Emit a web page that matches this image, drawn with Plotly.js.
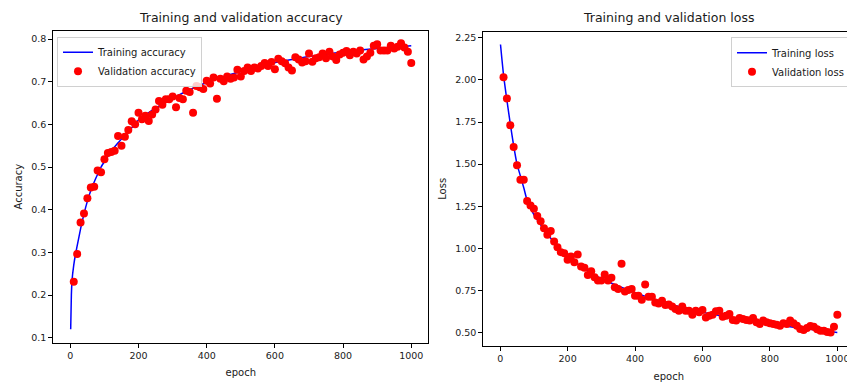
<!DOCTYPE html>
<html>
<head>
<meta charset="utf-8">
<script src="https://cdn.plot.ly/plotly-3.0.1.min.js"></script>
<style>
  html, body { margin: 0; padding: 0; background: #ffffff; overflow: hidden; }
  #chart { width: 860px; height: 383px; }
</style>
</head>
<body>
<div id="chart"></div>
<script>
// ---- Data ----
// Validation points: every 10 epochs, 10..1000
const valEpochs = [10,20,30,40,50,60,70,80,90,100,110,120,130,140,150,160,170,180,190,200,
  210,220,230,240,250,260,270,280,290,300,310,320,330,340,350,360,370,380,390,400,
  410,420,430,440,450,460,470,480,490,500,510,520,530,540,550,560,570,580,590,600,
  610,620,630,640,650,660,670,680,690,700,710,720,730,740,750,760,770,780,790,800,
  810,820,830,840,850,860,870,880,890,900,910,920,930,940,950,960,970,980,990,1000];

const valAccuracy = [0.231,0.296,0.370,0.391,0.427,0.452,0.454,0.492,0.488,0.518,
  0.533,0.535,0.538,0.573,0.550,0.571,0.587,0.607,0.600,0.627,
  0.612,0.620,0.608,0.623,0.635,0.655,0.646,0.659,0.659,0.665,
  0.640,0.662,0.659,0.679,0.676,0.627,0.690,0.687,0.683,0.702,
  0.696,0.710,0.660,0.707,0.701,0.712,0.707,0.710,0.728,0.712,
  0.725,0.733,0.725,0.733,0.731,0.737,0.744,0.737,0.746,0.729,
  0.754,0.748,0.743,0.733,0.726,0.757,0.752,0.745,0.748,0.766,
  0.747,0.755,0.757,0.766,0.755,0.770,0.759,0.751,0.764,0.768,
  0.772,0.762,0.770,0.766,0.773,0.752,0.759,0.768,0.784,0.788,
  0.773,0.773,0.773,0.784,0.778,0.782,0.790,0.780,0.770,0.744];

const valLoss = [2.016,1.890,1.731,1.602,1.493,1.408,1.408,1.281,1.255,1.236,
  1.192,1.162,1.120,1.081,1.103,1.041,1.007,0.978,0.972,0.933,
  0.952,0.918,0.964,0.893,0.885,0.843,0.864,0.829,0.810,0.810,
  0.845,0.810,0.826,0.770,0.760,0.909,0.744,0.754,0.760,0.720,
  0.720,0.695,0.786,0.714,0.714,0.680,0.674,0.690,0.665,0.667,
  0.655,0.641,0.631,0.655,0.631,0.631,0.606,0.631,0.621,0.635,
  0.591,0.601,0.607,0.627,0.631,0.595,0.601,0.611,0.576,0.572,
  0.588,0.582,0.576,0.572,0.588,0.562,0.552,0.572,0.562,0.556,
  0.552,0.548,0.542,0.556,0.552,0.572,0.556,0.542,0.522,0.516,
  0.528,0.540,0.535,0.520,0.512,0.512,0.505,0.502,0.536,0.607];

// Training curves: sampled readings of the blue line
const trainAccEpochs = [1,3,5,10,15,20,30,40,50,60,70,80,90,100,120,140,160,180,200,
  250,300,350,400,450,500,550,600,650,700,750,800,850,900,950,1000];
const trainAccuracy = [0.120,0.200,0.235,0.270,0.295,0.315,0.355,0.390,0.420,0.445,
  0.465,0.483,0.500,0.513,0.537,0.557,0.574,0.592,0.610,
  0.638,0.661,0.681,0.698,0.712,0.724,0.734,0.745,0.752,0.759,0.764,0.770,0.774,0.778,0.781,0.784];

const trainLossEpochs = [1,10,20,30,40,50,60,70,80,100,120,150,175,200,250,300,350,400,
  450,500,550,600,650,700,750,800,850,900,950,1000];
const trainLoss = [2.210,2.030,1.880,1.740,1.610,1.500,1.430,1.360,1.285,1.200,1.140,1.060,
  1.000,0.950,0.880,0.820,0.778,0.738,0.703,0.672,0.645,0.622,0.602,0.584,0.568,0.553,
  0.538,0.525,0.512,0.502];

const xTicks = [0,200,400,600,800,1000];
const accTicks = [0.1,0.2,0.3,0.4,0.5,0.6,0.7,0.8];
const lossTicks = [0.50,0.75,1.00,1.25,1.50,1.75,2.00,2.25];

// ---- Figure ----
const W = 860, H = 383;
const FONT = 'DejaVu Sans, sans-serif';
const tickFont = {family: FONT, size: 9.5, color: '#1a1a1a'};
const titleFont = {family: FONT, size: 10, color: '#1a1a1a'};

function axisBase() {
  return {
    showline: true, linecolor: '#000', linewidth: 1, mirror: true,
    ticks: 'outside', ticklen: 4, tickwidth: 1, tickcolor: '#000',
    showgrid: false, zeroline: false, tickfont: tickFont, automargin: false
  };
}

const traces = [
  {x: trainAccEpochs, y: trainAccuracy, type: 'scatter', mode: 'lines', name: 'Training accuracy',
   line: {color: '#0000ff', width: 1.5, shape: 'spline', smoothing: 0.6}, xaxis: 'x', yaxis: 'y', legend: 'legend'},
  {x: valEpochs, y: valAccuracy, type: 'scatter', mode: 'markers', name: 'Validation accuracy',
   marker: {color: '#ff0000', size: 8}, xaxis: 'x', yaxis: 'y', legend: 'legend'},
  {x: trainLossEpochs, y: trainLoss, type: 'scatter', mode: 'lines', name: 'Training loss',
   line: {color: '#0000ff', width: 1.5, shape: 'spline', smoothing: 0.6}, xaxis: 'x2', yaxis: 'y2', legend: 'legend2'},
  {x: valEpochs, y: valLoss, type: 'scatter', mode: 'markers', name: 'Validation loss',
   marker: {color: '#ff0000', size: 8}, xaxis: 'x2', yaxis: 'y2', legend: 'legend2'}
];

const layout = {
  width: W, height: H,
  margin: {l: 0, r: 0, t: 0, b: 0, pad: 0},
  paper_bgcolor: '#ffffff', plot_bgcolor: '#ffffff',
  font: {family: FONT, color: '#1a1a1a'},
  xaxis: Object.assign(axisBase(), {
    domain: [53.3 / W, 428.3 / W], range: [-50, 1050], tickvals: xTicks, anchor: 'y',
    title: {text: 'epoch', font: titleFont, standoff: 8}
  }),
  yaxis: Object.assign(axisBase(), {
    domain: [(H - 342.7) / H, (H - 30.7) / H], range: [0.0883, 0.8195], tickvals: accTicks,
    tickformat: '.1f', anchor: 'x',
    title: {text: 'Accuracy', font: titleFont, standoff: 6}
  }),
  xaxis2: Object.assign(axisBase(), {
    domain: [483.3 / W, 854.2 / W], range: [-50, 1050], tickvals: xTicks, anchor: 'y2',
    title: {text: 'epoch', font: titleFont, standoff: 9}
  }),
  yaxis2: Object.assign(axisBase(), {
    domain: [(H - 345.7) / H, (H - 32) / H], range: [0.423, 2.284], tickvals: lossTicks,
    tickformat: '.2f', anchor: 'x2',
    title: {text: 'Loss', font: titleFont, standoff: 6}
  }),
  legend: {
    x: 57 / W, y: (H - 36.7) / H, xanchor: 'left', yanchor: 'top',
    bgcolor: 'rgba(255,255,255,0.8)', bordercolor: '#d0d0d0', borderwidth: 1,
    font: {family: FONT, size: 10, color: '#1a1a1a'}, tracegroupgap: 0
  },
  legend2: {
    x: 731 / W, y: (H - 37.3) / H, xanchor: 'left', yanchor: 'top',
    bgcolor: 'rgba(255,255,255,0.8)', bordercolor: '#d0d0d0', borderwidth: 1,
    font: {family: FONT, size: 10, color: '#1a1a1a'}, tracegroupgap: 0
  },
  showlegend: true,
  annotations: [
    {text: 'Training and validation accuracy', xref: 'paper', yref: 'paper',
     x: (53.3 + 428.3) / 2 / W, y: (H - 17.3) / H, xanchor: 'center', yanchor: 'middle',
     showarrow: false, font: {family: FONT, size: 12.5, color: '#1a1a1a'}},
    {text: 'Training and validation loss', xref: 'paper', yref: 'paper',
     x: (483.3 + 854.2) / 2 / W, y: (H - 17.3) / H, xanchor: 'center', yanchor: 'middle',
     showarrow: false, font: {family: FONT, size: 12.5, color: '#1a1a1a'}}
  ]
};

Plotly.newPlot('chart', traces, layout, {displayModeBar: false, staticPlot: true});
</script>
</body>
</html>
